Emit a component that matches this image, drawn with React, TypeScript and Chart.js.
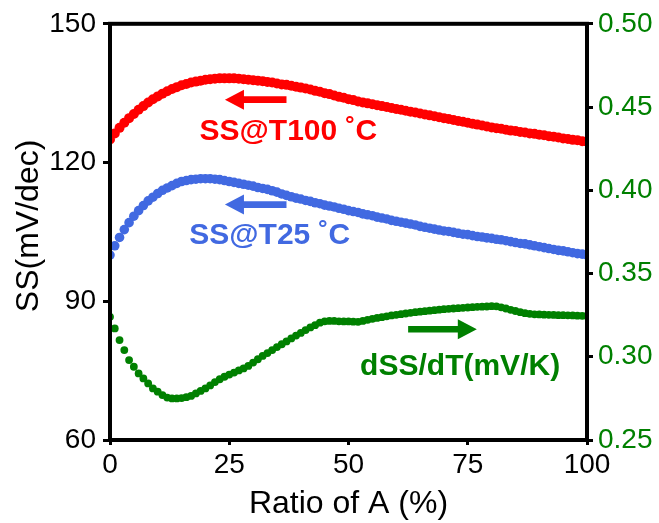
import React, { useEffect, useRef } from "react";
import { Chart, registerables } from "chart.js";

Chart.register(...registerables);

// Ratio of A (%)
const ratio = [
  0, 1, 2, 3, 4, 5, 6, 7, 8, 9,
  10, 11, 12, 13, 14, 15, 16, 17, 18, 19,
  20, 21, 22, 23, 24, 25, 26, 27, 28, 29,
  30, 31, 32, 33, 34, 35, 36, 37, 38, 39,
  40, 41, 42, 43, 44, 45, 46, 47, 48, 49,
  50, 51, 52, 53, 54, 55, 56, 57, 58, 59,
  60, 61, 62, 63, 64, 65, 66, 67, 68, 69,
  70, 71, 72, 73, 74, 75, 76, 77, 78, 79,
  80, 81, 82, 83, 84, 85, 86, 87, 88, 89,
  90, 91, 92, 93, 94, 95, 96, 97, 98, 99, 100,
];

// SS@T100 °C (mV/dec), left axis
const ssT100 = [
  125.0, 126.3, 127.5, 128.6, 129.6, 130.5, 131.4, 132.2, 133.0, 133.7,
  134.3, 134.9, 135.4, 135.9, 136.3, 136.7, 137.0, 137.3, 137.5, 137.7,
  137.9, 138.0, 138.1, 138.2, 138.2, 138.2, 138.2, 138.1, 138.0, 137.9,
  137.8, 137.7, 137.6, 137.4, 137.3, 137.1, 136.9, 136.8, 136.6, 136.4,
  136.2, 136.0, 135.8, 135.5, 135.3, 135.0, 134.8, 134.5, 134.2, 134.0,
  133.7, 133.5, 133.2, 133.0, 132.8, 132.6, 132.4, 132.2, 132.0, 131.8,
  131.6, 131.4, 131.2, 131.0, 130.8, 130.6, 130.4, 130.2, 130.0, 129.8,
  129.6, 129.4, 129.2, 129.0, 128.8, 128.6, 128.4, 128.2, 128.0, 127.8,
  127.6, 127.4, 127.3, 127.1, 126.9, 126.8, 126.6, 126.5, 126.3, 126.2,
  126.0, 125.9, 125.7, 125.6, 125.4, 125.2, 125.1, 124.9, 124.8, 124.6, 124.5,
];

// SS@T25 °C (mV/dec), left axis
const ssT25 = [
  100.0, 102.0, 103.8, 105.5, 107.0, 108.4, 109.6, 110.7, 111.7, 112.5,
  113.3, 114.0, 114.5, 115.0, 115.5, 115.9, 116.1, 116.3, 116.4, 116.5,
  116.5, 116.5, 116.4, 116.3, 116.1, 115.9, 115.7, 115.5, 115.3, 115.1,
  114.9, 114.6, 114.4, 114.2, 113.9, 113.6, 113.2, 112.9, 112.6, 112.3,
  112.1, 111.8, 111.6, 111.3, 111.1, 110.8, 110.6, 110.4, 110.1, 109.9,
  109.6, 109.4, 109.2, 108.9, 108.7, 108.5, 108.2, 108.0, 107.8, 107.5,
  107.3, 107.1, 106.9, 106.7, 106.5, 106.2, 106.0, 105.8, 105.6, 105.4,
  105.2, 105.1, 104.9, 104.7, 104.5, 104.4, 104.2, 104.0, 103.9, 103.7,
  103.6, 103.4, 103.3, 103.1, 102.9, 102.7, 102.5, 102.4, 102.2, 102.0,
  101.8, 101.6, 101.4, 101.2, 101.0, 100.9, 100.7, 100.5, 100.3, 100.2, 100.0,
];

// dSS/dT (mV/K), right axis
const dSSdT = [
  0.324, 0.317, 0.31, 0.304, 0.298, 0.294, 0.29, 0.287, 0.284, 0.281,
  0.279, 0.277, 0.2755, 0.275, 0.275, 0.2752, 0.2757, 0.2765, 0.278, 0.2795,
  0.281, 0.2828, 0.2848, 0.2865, 0.288, 0.2893, 0.2905, 0.2918, 0.293, 0.2945,
  0.2965, 0.2985, 0.3005, 0.3022, 0.304, 0.3058, 0.3075, 0.3092, 0.311, 0.3127,
  0.3143, 0.316, 0.3176, 0.319, 0.3205, 0.3213, 0.3215, 0.3215, 0.3213, 0.3212,
  0.3212, 0.3211, 0.321, 0.3215, 0.3222, 0.3228, 0.3233, 0.3238, 0.3243, 0.3248,
  0.3252, 0.3256, 0.326, 0.3264, 0.3268, 0.3271, 0.3274, 0.3277, 0.328, 0.3283,
  0.3286, 0.3288, 0.329, 0.3292, 0.3294, 0.3296, 0.3298, 0.33, 0.3301, 0.3302,
  0.3304, 0.3303, 0.3297, 0.329, 0.3282, 0.3275, 0.3268, 0.3262, 0.3258, 0.3255,
  0.3254, 0.3253, 0.3252, 0.3251, 0.325, 0.325, 0.3249, 0.3248, 0.3247, 0.3246, 0.3245,
];

const xRange = [0, 100];
const leftRange = [60, 150];
const rightRange = [0.25, 0.5];

const RED = "#ff0000";
const BLUE = "#4169e1";
const GREEN = "#008000";
const FONT = '"Liberation Sans", Arial, Helvetica, sans-serif';

const yTitle = "SS(mV/dec)";

// annotation texts (data coordinates)
const noteTexts = ["SS@T100 ˚C", "SS@T25 ˚C", "dSS/dT(mV/K)"];
const noteX = [37.4, 33.5, 73.4];
const noteY = [124.9, 102.4, 0.2893];
const noteAxis = ["y", "y", "y2"];
const noteColor = [RED, BLUE, GREEN];

// arrows: tail x, tip x, y value
const arrowTail = [37.0, 37.0, 62.5];
const arrowTip = [24.1, 24.1, 76.9];
const arrowY = [133.6, 110.9, 0.3165];
const arrowAxis = ["y", "y", "y2"];
const arrowColor = [RED, BLUE, GREEN];

const decorPlugin = {
  id: "decor",
  afterDatasetsDraw(chart: any) {
    const { ctx, chartArea: a, scales } = chart;
    ctx.save();
    // frame
    ctx.strokeStyle = "#000";
    ctx.lineWidth = 4;
    ctx.strokeRect(a.left, a.top, a.right - a.left, a.bottom - a.top);

    // arrows
    for (let i = 0; i < arrowTail.length; i++) {
      const ys = scales[arrowAxis[i]];
      const x1 = scales.x.getPixelForValue(arrowTail[i]);
      const x2 = scales.x.getPixelForValue(arrowTip[i]);
      const y = ys.getPixelForValue(arrowY[i]);
      const dir = x2 > x1 ? 1 : -1;
      const headLen = 19;
      const headHalf = 10;
      const half = 3.3;
      const base = x2 - dir * headLen;
      ctx.fillStyle = arrowColor[i];
      ctx.beginPath();
      ctx.moveTo(x1, y - half);
      ctx.lineTo(base, y - half);
      ctx.lineTo(base, y - headHalf);
      ctx.lineTo(x2, y);
      ctx.lineTo(base, y + headHalf);
      ctx.lineTo(base, y + half);
      ctx.lineTo(x1, y + half);
      ctx.closePath();
      ctx.fill();
    }

    // texts
    ctx.font = `bold 30px ${FONT}`;
    ctx.textAlign = "center";
    ctx.textBaseline = "alphabetic";
    for (let i = 0; i < noteTexts.length; i++) {
      const ys = scales[noteAxis[i]];
      ctx.fillStyle = noteColor[i];
      ctx.fillText(noteTexts[i], scales.x.getPixelForValue(noteX[i]), ys.getPixelForValue(noteY[i]));
    }

    // left axis title
    ctx.translate(a.left - 81, (a.top + a.bottom) / 2 - 6);
    ctx.rotate(-Math.PI / 2);
    ctx.font = `32px ${FONT}`;
    ctx.fillStyle = "#000";
    ctx.textAlign = "center";
    ctx.textBaseline = "middle";
    ctx.fillText(yTitle, 0, 0);
    ctx.restore();
  },
};

export default function App() {
  const ref = useRef<HTMLCanvasElement>(null);

  useEffect(() => {
    const mk = (ys: number[]) => ratio.map((x, i) => ({ x, y: ys[i] }));
    const chart = new Chart(ref.current as HTMLCanvasElement, {
      type: "scatter",
      data: {
        datasets: [
          {
            label: "SS@T100 ˚C",
            data: mk(ssT100),
            yAxisID: "y",
            backgroundColor: RED,
            borderColor: RED,
            pointRadius: 5,
            pointHoverRadius: 5,
            pointBorderWidth: 0,
          },
          {
            label: "SS@T25 ˚C",
            data: mk(ssT25),
            yAxisID: "y",
            backgroundColor: BLUE,
            borderColor: BLUE,
            pointRadius: 4.8,
            pointHoverRadius: 4.8,
            pointBorderWidth: 0,
          },
          {
            label: "dSS/dT(mV/K)",
            data: mk(dSSdT),
            yAxisID: "y2",
            backgroundColor: GREEN,
            borderColor: GREEN,
            pointRadius: 3.9,
            pointHoverRadius: 3.9,
            pointBorderWidth: 0,
          },
        ],
      },
      options: {
        responsive: false,
        animation: false,
        events: [],
        layout: { padding: { top: 20, left: 0, right: 0, bottom: 0 } },
        plugins: {
          legend: { display: false },
          tooltip: { enabled: false },
        },
        scales: {
          x: {
            type: "linear",
            position: "bottom",
            min: xRange[0],
            max: xRange[1],
            ticks: {
              stepSize: 25,
              color: "#000",
              font: { family: FONT, size: 28 },
              padding: 3,
              maxRotation: 0,
            },
            grid: {
              display: true,
              drawOnChartArea: false,
              drawTicks: true,
              tickLength: 5,
              tickWidth: 3,
              tickColor: "#000",
              color: "#000",
              lineWidth: 3,
            },
            border: { display: false },
            title: {
              display: true,
              text: "Ratio of A (%)",
              color: "#000",
              font: { family: FONT, size: 32 },
              padding: { top: 0, bottom: 0 },
            },
            afterFit: (s: any) => {
              s.height = 83;
            },
          },
          y: {
            type: "linear",
            position: "left",
            min: leftRange[0],
            max: leftRange[1],
            ticks: {
              stepSize: 30,
              color: "#000",
              font: { family: FONT, size: 28 },
              padding: 7,
            },
            grid: {
              display: true,
              drawOnChartArea: false,
              drawTicks: true,
              tickLength: 7,
              tickWidth: 3,
              tickColor: "#000",
              color: "#000",
              lineWidth: 3,
            },
            border: { display: false },
            title: { display: false },
            afterFit: (s: any) => {
              s.width = 110;
            },
          },
          y2: {
            type: "linear",
            position: "right",
            min: rightRange[0],
            max: rightRange[1],
            ticks: {
              stepSize: 0.05,
              color: GREEN,
              font: { family: FONT, size: 28 },
              padding: 5,
              callback: (v: any) => Number(v).toFixed(2),
            },
            grid: {
              display: true,
              drawOnChartArea: false,
              drawTicks: true,
              tickLength: 6,
              tickWidth: 3,
              tickColor: "#000",
              color: "#000",
              lineWidth: 3,
            },
            border: { display: false },
            afterFit: (s: any) => {
              s.width = 72;
            },
          },
        },
      },
      plugins: [decorPlugin],
    });
    return () => chart.destroy();
  }, []);

  return (
    <div style={{ position: "fixed", left: 0, top: 0, width: 659, height: 523, background: "#fff" }}>
      <canvas ref={ref} width={659} height={523} style={{ width: 659, height: 523, display: "block" }} />
    </div>
  );
}
